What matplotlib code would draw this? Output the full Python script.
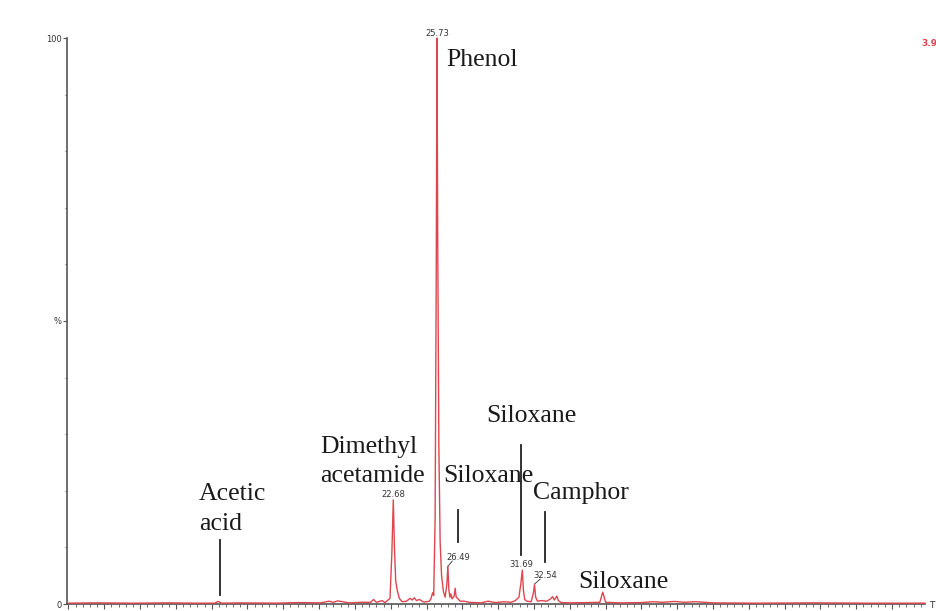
import matplotlib.pyplot as plt
from matplotlib.ticker import MultipleLocator, FixedLocator

# retention time (min) and relative intensity (%)
rt = [0.0, 2.0, 4.5, 7.0, 9.0, 10.2, 10.45, 10.7, 12.0, 14.5, 16.0, 17.6,
      18.2, 18.5, 18.8, 19.6, 20.4, 21.1, 21.3, 21.5, 21.9, 22.1,
      22.45, 22.58, 22.68, 22.76, 22.85, 22.95, 23.1, 23.3, 23.6, 23.85,
      24.0, 24.15, 24.3, 24.5, 24.8, 25.0, 25.2, 25.3, 25.43, 25.5,
      25.6, 25.68, 25.73, 25.78, 25.86, 25.95, 26.05, 26.18, 26.3,
      26.42, 26.49, 26.56, 26.63, 26.7, 26.78, 26.93, 27.0, 27.07, 27.2,
      27.35, 27.6, 28.0, 28.8, 29.3, 29.8, 30.4, 30.9, 31.2, 31.45,
      31.58, 31.69, 31.76, 31.85, 32.0, 32.3, 32.45, 32.54, 32.62, 32.75,
      33.0, 33.4, 33.65, 33.8, 33.92, 34.1, 34.2, 34.4, 35.0, 36.2,
      37.1, 37.3, 37.5, 38.5, 40.0, 40.8, 41.5, 42.3, 43.0, 43.8,
      45.0, 48.0, 52.0, 56.0, 59.8]
signal = [0.15, 0.2, 0.15, 0.2, 0.15, 0.15, 0.45, 0.15, 0.2, 0.15, 0.25, 0.2,
          0.5, 0.3, 0.55, 0.2, 0.3, 0.3, 0.8, 0.3, 0.6, 0.25,
          1.0, 9.0, 18.4, 10.0, 4.0, 2.5, 1.0, 0.4, 0.5, 1.0,
          0.7, 1.1, 0.6, 0.8, 0.35, 0.4, 0.5, 0.9, 2.0, 1.5,
          15.0, 60.0, 100.0, 65.0, 28.0, 11.0, 5.0, 2.2, 1.2,
          3.5, 6.7, 2.5, 1.2, 1.8, 0.9, 1.4, 2.8, 1.2, 0.9,
          0.5, 0.5, 0.3, 0.2, 0.5, 0.25, 0.4, 0.3, 0.6, 1.2,
          3.5, 6.0, 2.5, 0.8, 0.5, 0.4, 1.8, 3.4, 1.2, 0.5,
          0.6, 0.5, 0.9, 1.3, 0.7, 1.4, 0.6, 0.25, 0.2, 0.25,
          0.3, 2.1, 0.3, 0.2, 0.25, 0.4, 0.3, 0.45, 0.3, 0.4,
          0.2, 0.15, 0.2, 0.15, 0.15]

# peak apex labels
peak_rt = [22.68, 25.73, 26.49, 31.69, 32.54]
peak_label = ['22.68', '25.73', '26.49', '31.69', '32.54']

# compound names
compounds = ['Phenol', 'Dimethyl\nacetamide', 'Siloxane', 'Siloxane',
             'Camphor', 'Acetic\nacid', 'Siloxane']

red = '#e0454f'
fig = plt.figure(figsize=(9.36, 6.11), dpi=100)
ax = fig.add_axes([67/936, 7/611, 858/936, 566/611])
ax.plot(rt, signal, color=red, lw=1.0, clip_on=False, zorder=3)
ax.set_xlim(-0.1, 59.8)
ax.set_ylim(0, 100)

for s in ['top', 'right']:
    ax.spines[s].set_visible(False)
for s in ['left', 'bottom']:
    ax.spines[s].set_color('#555555')
    ax.spines[s].set_linewidth(1.2)

ax.yaxis.set_major_locator(FixedLocator([0, 50, 100]))
ax.set_yticklabels(['0', '%', '100'])
ax.yaxis.set_minor_locator(MultipleLocator(10))
ax.tick_params(axis='y', which='major', length=3, labelsize=6, colors='#555555',
               labelcolor='#333333', pad=1)
ax.tick_params(axis='y', which='minor', length=1.5, colors='#555555')
ax.xaxis.set_major_locator(MultipleLocator(2.5))
ax.xaxis.set_minor_locator(MultipleLocator(0.5))
ax.tick_params(axis='x', which='major', length=3.5, labelbottom=False, colors='#555555')
ax.tick_params(axis='x', which='minor', length=2, colors='#555555')

# apex retention times
num_pos = [(22.66, 18.9), (25.73, 100.3), (27.2, 7.8), (31.6, 6.5), (33.27, 4.6)]
for (x, y), lab in zip(num_pos, peak_label):
    ax.text(x, y, lab, fontsize=6, ha='center', va='baseline', color='#333333',
            clip_on=False)
ax.plot([26.45, 26.8], [6.5, 7.6], color='#333333', lw=0.6)
ax.plot([32.53, 32.93], [3.5, 4.4], color='#333333', lw=0.6)

# compound names (y = baseline of last line)
name_pos = [(26.36, 95.0), (17.6, 21.6), (29.2, 32.2), (26.15, 21.6),
            (32.4, 18.55), (9.1, 13.1), (35.6, 2.83)]
spacing = [1.2, 1.38, 1.2, 1.2, 1.2, 1.47, 1.2]
for (x, y), name, ls in zip(name_pos, compounds, spacing):
    ax.text(x, y, name, fontsize=18.5, family='Liberation Serif', ha='left',
            va='baseline', color='#1a1a1a', linespacing=ls)

# marker lines
marks = [(10.58, 1.6, 11.3), (27.2, 11.0, 16.6), (31.6, 8.7, 28.1), (33.27, 7.4, 16.3)]
for x, y0, y1 in marks:
    ax.plot([x, x], [y0, y1], color='#222222', lw=1.3)

fig.text(921/936, 1 - 44/611, '3.9', color=red, fontsize=6.5, fontweight='bold',
         ha='left', va='center')
fig.text(929/936, 1 - 606/611, 'T', color='#333333', fontsize=6.5, ha='left', va='center')

fig.savefig('out.png', dpi=100)
